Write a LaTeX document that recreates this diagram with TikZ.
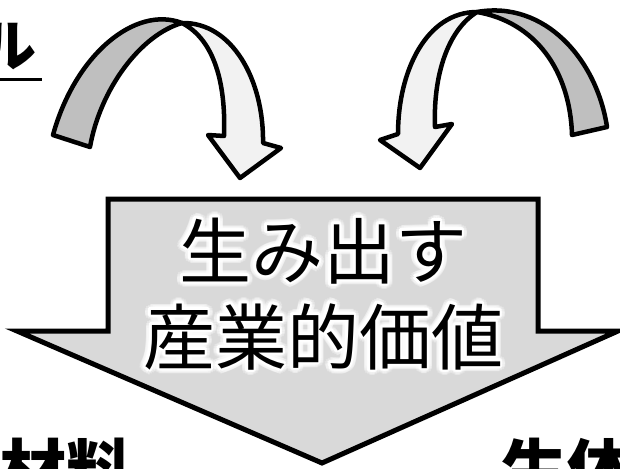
\documentclass[tikz,border=0pt]{standalone}
\usepackage{fontspec}
\newfontfamily\jp{Noto Sans CJK JP}
\usetikzlibrary{calc}
\definecolor{bandd}{HTML}{BFBFBF}
\definecolor{bandl}{HTML}{F2F2F2}
\definecolor{bigfill}{HTML}{D9D9D9}
\newcommand\glownode[3]{%
  \foreach \ga in {0,20,...,340}{\node[txt,text=white,opacity=0.3] at ($(#2)+(\ga:5.5)$) {#3};}
  \foreach \ga in {0,30,...,330}{\node[txt,text=white] at ($(#2)+(\ga:2.5)$) {#3};}
  \node[txt] (#1) at (#2) {#3};}
\begin{document}
\begin{tikzpicture}[x=1pt,y=-1pt,
  outl/.style={draw=black,line width=4.5pt,line join=round},
  bigarrow/.style={draw=black,line width=5pt,fill=bigfill,line join=miter},
  txt/.style={font={\jp\fontsize{72}{72}\selectfont},anchor=base,inner sep=0pt},
  lbl/.style={font={\jp\bfseries\fontsize{66}{66}\selectfont},inner sep=0pt}]
\useasboundingbox (0,0) rectangle (620,468);
\clip (0,0) rectangle (620,468);
% top-left partial title
\node[font={\jp\bfseries\fontsize{56}{56}\selectfont},anchor=base west,inner sep=0pt] (ru) at (-20,67) {ル};
\coordinate (ulA) at (0,80);
\coordinate (ulB) at (42,80);
\draw[line width=3pt] (ulA) -- (ulB);
% left curved arrow
\draw[outl,fill=bandd] (53,135) .. controls (75,55) and (135,5) .. (182,23)
   .. controls (140,35) and (100,90) .. (90,147) -- cycle;
\draw[outl,fill=bandl] (182,23) .. controls (232,22) and (264,80) .. (263,143)
   -- (281,148) -- (240,178) -- (208,135) -- (224,136)
   .. controls (226,85) and (215,40) .. cycle;
% right curved arrow
\draw[outl,fill=bandd] (607,127) .. controls (597,60) and (545,0) .. (477,12)
   .. controls (535,22) and (570,70) .. (572,135) -- cycle;
\draw[outl,fill=bandl] (477,12) .. controls (427,12) and (398,70) .. (398,134)
   -- (380,140) -- (420,168) -- (452,124) -- (435,127)
   .. controls (433,75) and (448,30) .. cycle;
% big down arrow
\draw[bigarrow] (108,199) -- (538,199) -- (538,331) -- (618,331) -- (322,463)
   -- (17,331) -- (108,331) -- cycle;
\glownode{l1}{323,278}{生み出す}
\glownode{l2}{323,364}{産業的価値}
% bottom labels
\node[lbl,anchor=base east] (mat) at (133,494) {材料};
\node[lbl,anchor=base west] (bio) at (501,494) {生体};
\end{tikzpicture}
\end{document}
